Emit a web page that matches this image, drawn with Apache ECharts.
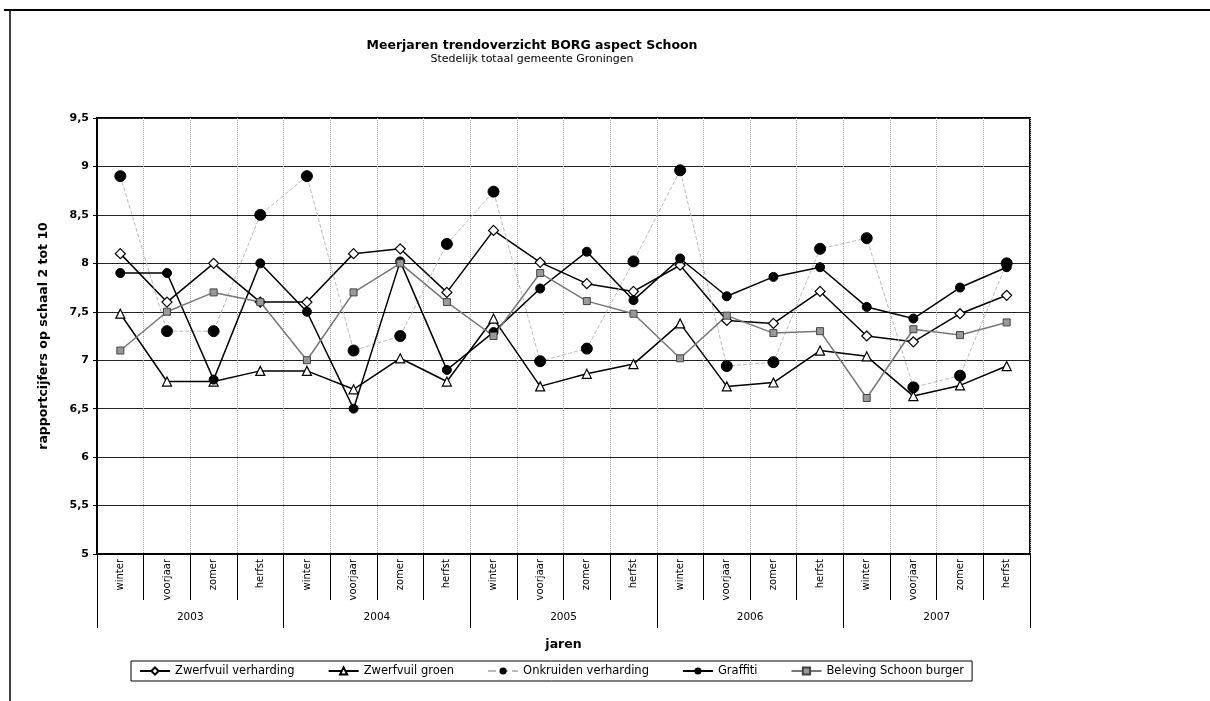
<!DOCTYPE html>
<html>
<head>
<meta charset="utf-8">
<script src="https://cdn.jsdelivr.net/npm/echarts@6/dist/echarts.min.js"></script>
<style>
  html, body { margin: 0; padding: 0; background: #fff; }
  #chart { width: 1210px; height: 701px; }
</style>
</head>
<body>
<div id="chart"></div>
<script>
var seasons = ["winter", "voorjaar", "zomer", "herfst"];
var years = ["2003", "2004", "2005", "2006", "2007"];
var categories = [];
years.forEach(function () { seasons.forEach(function (s) { categories.push(s); }); });

var yTicks = [5, 5.5, 6, 6.5, 7, 7.5, 8, 8.5, 9, 9.5];

// rapportcijfers per kwartaal, winter 2003 t/m herfst 2007
var zwerfvuilVerharding = [8.1, 7.6, 8.0, 7.6, 7.6, 8.1, 8.15, 7.7, 8.34, 8.01, 7.79, 7.71, 7.98, 7.41, 7.38, 7.71, 7.25, 7.19, 7.48, 7.67];
var zwerfvuilGroen = [7.48, 6.78, 6.78, 6.89, 6.89, 6.7, 7.02, 6.78, 7.43, 6.73, 6.86, 6.96, 7.38, 6.73, 6.77, 7.1, 7.04, 6.63, 6.74, 6.94];
var onkruidenVerharding = [8.9, 7.3, 7.3, 8.5, 8.9, 7.1, 7.25, 8.2, 8.74, 6.99, 7.12, 8.02, 8.96, 6.94, 6.98, 8.15, 8.26, 6.72, 6.84, 8.0];
var graffiti = [7.9, 7.9, 6.8, 8.0, 7.5, 6.5, 8.02, 6.9, 7.29, 7.74, 8.12, 7.62, 8.05, 7.66, 7.86, 7.96, 7.55, 7.43, 7.75, 7.96];
var belevingSchoon = [7.1, 7.5, 7.7, 7.6, 7.0, 7.7, 8.0, 7.6, 7.25, 7.9, 7.61, 7.48, 7.02, 7.46, 7.28, 7.3, 6.61, 7.32, 7.26, 7.39];

var font = "DejaVu Sans";
var chart = echarts.init(document.getElementById("chart"));

var option = {
  backgroundColor: "#fff",
  animation: false,
  textStyle: { fontFamily: font, color: "#000" },
  title: {
    text: "Meerjaren trendoverzicht BORG aspect Schoon",
    subtext: "Stedelijk totaal gemeente Groningen",
    left: 527,
    top: 34,
    textAlign: "center",
    itemGap: 2,
    textStyle: { fontFamily: font, fontSize: 12.5, fontWeight: "bold", color: "#000" },
    subtextStyle: { fontFamily: font, fontSize: 11, color: "#000" }
  },
  grid: {
    left: 97,
    right: 180,
    top: 118,
    bottom: 147,
    show: true,
    borderColor: "#000",
    borderWidth: 2
  },
  legend: {
    top: 661,
    left: 131,
    padding: [4, 8],
    itemGap: 33,
    itemWidth: 30,
    itemHeight: 9,
    borderColor: "#000",
    borderWidth: 1,
    textStyle: { fontFamily: font, fontSize: 11.5, color: "#000" },
    data: ["Zwerfvuil verharding", "Zwerfvuil groen", "Onkruiden verharding", "Graffiti", "Beleving Schoon burger"]
  },
  xAxis: [
    {
      type: "category",
      data: categories,
      boundaryGap: true,
      axisLine: { lineStyle: { color: "#000", width: 1 } },
      axisTick: { show: true, interval: 0, length: 46, lineStyle: { color: "#000" } },
      axisLabel: { interval: 0, rotate: 90, margin: 5, fontSize: 10, color: "#000", fontFamily: font },
      splitLine: { show: true, interval: 0, lineStyle: { color: "#aaa", type: "dotted" } }
    },
    {
      type: "category",
      data: years,
      position: "bottom",
      offset: 46,
      boundaryGap: true,
      axisLine: { show: false },
      axisTick: { show: true, interval: 0, length: 28, lineStyle: { color: "#000" } },
      axisLabel: { interval: 0, margin: 12, fontSize: 10.5, color: "#000", fontFamily: font },
      name: "jaren",
      nameLocation: "middle",
      nameGap: 38,
      nameTextStyle: { fontFamily: font, fontSize: 12.5, fontWeight: "bold", color: "#000" }
    }
  ],
  yAxis: {
    type: "value",
    min: yTicks[0],
    max: yTicks[yTicks.length - 1],
    interval: 0.5,
    name: "rapportcijfers op schaal 2 tot 10",
    nameLocation: "middle",
    nameGap: 47,
    nameTextStyle: { fontFamily: font, fontSize: 12.5, fontWeight: "bold", color: "#000" },
    axisLine: { show: true, lineStyle: { color: "#000", width: 2 } },
    axisTick: { show: true, length: 4, lineStyle: { color: "#000" } },
    axisLabel: {
      fontSize: 11,
      fontWeight: "bold",
      color: "#000",
      margin: 8,
      formatter: function (v) { return String(v).replace(".", ","); }
    },
    splitLine: { lineStyle: { color: "#222", width: 1 } }
  },
  series: [
    {
      name: "Zwerfvuil verharding",
      type: "line",
      data: zwerfvuilVerharding,
      symbol: "diamond",
      symbolSize: 10,
      showAllSymbol: true,
      lineStyle: { color: "#000", width: 1.5 },
      itemStyle: { color: "#fff", borderColor: "#000", borderWidth: 1.2 }
    },
    {
      name: "Zwerfvuil groen",
      type: "line",
      data: zwerfvuilGroen,
      symbol: "triangle",
      symbolSize: 9,
      showAllSymbol: true,
      lineStyle: { color: "#000", width: 1.5 },
      itemStyle: { color: "#fff", borderColor: "#000", borderWidth: 1.2 }
    },
    {
      name: "Onkruiden verharding",
      type: "line",
      data: onkruidenVerharding,
      symbol: "circle",
      symbolSize: 11,
      showAllSymbol: true,
      lineStyle: { color: "#bbb", width: 1, type: "dashed" },
      itemStyle: { color: "#000", borderColor: "#000" }
    },
    {
      name: "Graffiti",
      type: "line",
      data: graffiti,
      symbol: "circle",
      symbolSize: 9,
      showAllSymbol: true,
      lineStyle: { color: "#000", width: 1.5 },
      itemStyle: { color: "#000", borderColor: "#000" }
    },
    {
      name: "Beleving Schoon burger",
      type: "line",
      data: belevingSchoon,
      symbol: "rect",
      symbolSize: 7,
      showAllSymbol: true,
      lineStyle: { color: "#777", width: 1.5 },
      itemStyle: { color: "#999", borderColor: "#444", borderWidth: 1 }
    }
  ],
  graphic: [
    { type: "line", shape: { x1: 4, y1: 10, x2: 1210, y2: 10 }, style: { stroke: "#000", lineWidth: 2 } },
    { type: "line", shape: { x1: 10, y1: 10, x2: 10, y2: 701 }, style: { stroke: "#000", lineWidth: 1.5 } }
  ]
};

chart.setOption(option);
</script>
</body>
</html>
